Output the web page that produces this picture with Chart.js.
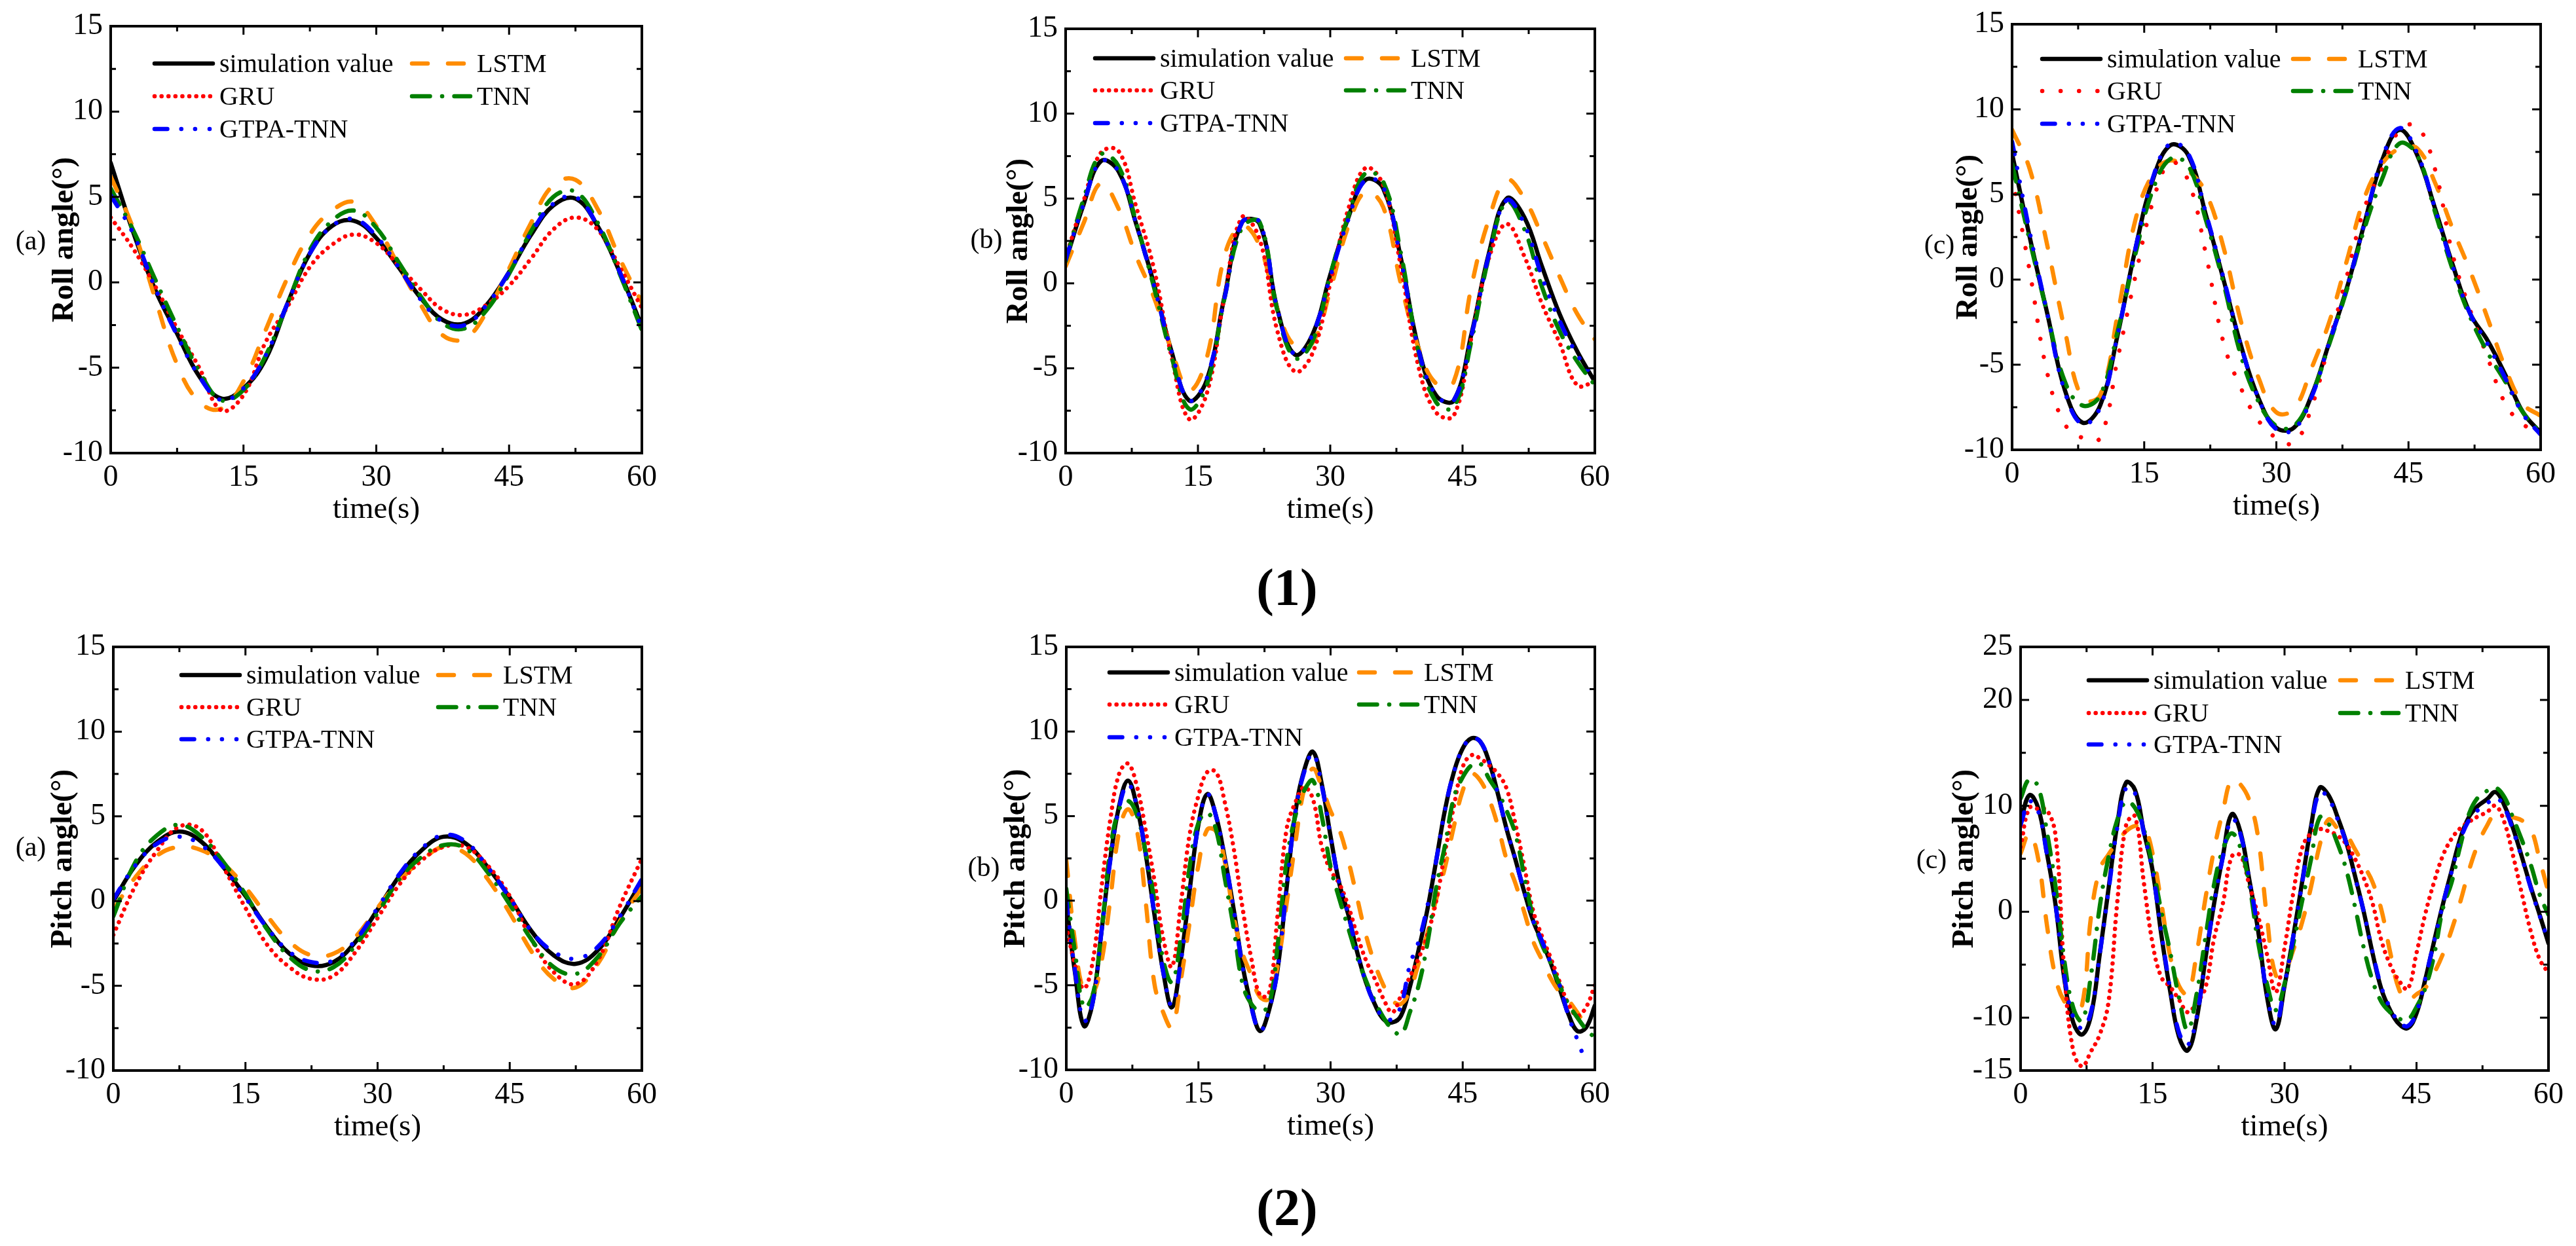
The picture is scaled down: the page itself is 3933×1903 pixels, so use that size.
<!DOCTYPE html>
<html>
<head>
<meta charset="utf-8">
<script src="https://cdn.jsdelivr.net/npm/chart.js@4.4.1/dist/chart.umd.min.js"></script>
<style>
  body { margin: 0; background: #fff; width: 3933px; height: 1903px; position: relative; overflow: hidden; }
  canvas { position: absolute; }
  .cap { position: absolute; font-family: "Liberation Serif", serif; font-weight: bold; font-size: 80px; line-height: 1; transform: translate(-50%, -50%); }
</style>
</head>
<body>
<div class="cap" style="left:1965px; top:897px;">(1)</div>
<div class="cap" style="left:1965px; top:1844px;">(2)</div>
<script>
// time axes (s)
const timeA = [0, 2.5, 5, 7.5, 10, 12.5, 15, 17.5, 20, 22.5, 25, 27.5, 30, 32.5, 35, 37.5, 40, 42.5, 45, 47.5, 50, 52.5, 55, 57.5, 60];
const timeB = [0, 2, 4, 6, 8, 10, 12, 14, 16, 18, 20, 22, 24, 26, 28, 30, 32, 34, 36, 38, 40, 42, 44, 46, 48, 50, 52, 54, 56, 58, 60];
const timeC = [0, 1, 2, 3, 4, 5, 6, 7, 8, 9, 10, 11, 12, 13, 14, 15, 16, 17, 18, 19, 20, 21, 22, 23, 24, 25, 26, 27, 28, 29,
  30, 31, 32, 33, 34, 35, 36, 37, 38, 39, 40, 41, 42, 43, 44, 45, 46, 47, 48, 49, 50, 51, 52, 53, 54, 55, 56, 57, 58, 59, 60];

// tick labels
const xTickLabels = [0, 15, 30, 45, 60];
const yTickLabels = [-10, -5, 0, 5, 10, 15];
const yTickLabelsPitchC = [-15, -10, 0, 10, 20, 25];

const seriesNames = ['simulation value', 'LSTM', 'GRU', 'TNN', 'GTPA-TNN'];

// (1)(a) roll angle
const rollA_sim  = [7.0, 3.0, -0.4, -3.0, -5.5, -6.8, -6.2, -4.5, -1.2, 1.7, 3.3, 3.6, 2.6, 0.9, -0.9, -2.2, -2.4, -1.3, 0.6, 2.8, 4.5, 4.9, 3.3, 0.6, -2.6];
const rollA_lstm = [6.2, 3.2, -0.9, -4.8, -7.0, -7.4, -5.8, -2.8, 0.3, 2.8, 4.2, 4.7, 3.3, 1.0, -1.3, -3.1, -3.3, -1.7, 0.8, 3.5, 5.7, 6.0, 4.3, 1.4, -1.2];
const rollA_gru  = [3.8, 2.0, -0.2, -2.7, -5.0, -7.5, -6.6, -3.5, -1.4, 0.9, 2.2, 2.8, 2.3, 1.0, -0.4, -1.6, -1.9, -1.3, -0.2, 1.4, 3.1, 3.8, 3.1, 0.9, -1.5];
const rollA_tnn  = [5.5, 3.1, 0.2, -2.6, -5.2, -6.9, -6.3, -4.3, -1.2, 1.9, 3.6, 4.2, 3.2, 1.2, -0.8, -2.4, -2.7, -1.6, 0.5, 3.0, 5.0, 5.3, 3.5, 0.5, -2.8];
const rollA_gtpa = [5.1, 2.9, -0.3, -3.1, -5.5, -6.9, -6.2, -4.3, -1.2, 1.7, 3.3, 3.7, 2.7, 0.9, -1.0, -2.3, -2.5, -1.3, 0.6, 2.9, 4.6, 5.0, 3.3, 0.6, -2.7];

// (1)(b) roll angle
const rollB_sim  = [1.3, 4.6, 7.2, 6.6, 3.5, 0.0, -4.0, -6.9, -5.7, -0.8, 3.6, 3.5, -1.5, -4.2, -3.0, 0.5, 3.8, 6.1, 5.6, 1.5, -3.8, -6.6, -6.9, -3.0, 1.8, 5.0, 3.9, 1.0, -1.8, -4.0, -5.8];
const rollB_lstm = [1.0, 3.5, 5.9, 4.4, 1.6, -0.8, -3.9, -6.3, -4.4, 1.6, 3.4, 2.2, -1.5, -3.7, -3.5, -0.4, 3.3, 5.4, 4.5, 0.0, -3.8, -5.9, -5.8, -0.2, 3.8, 6.1, 5.0, 2.8, 0.4, -1.8, -3.3];
const rollB_gru  = [1.5, 4.8, 7.7, 7.8, 4.5, 0.9, -4.3, -8.0, -6.5, -0.8, 3.9, 2.6, -2.8, -5.2, -4.1, 0.0, 4.3, 6.8, 5.8, 1.0, -4.9, -7.6, -7.8, -3.2, 1.5, 3.5, 1.6, -1.2, -3.5, -6.0, -5.8];
const rollB_tnn  = [1.3, 4.9, 7.6, 6.9, 3.6, -0.2, -4.3, -7.4, -6.0, -0.9, 3.3, 3.6, -1.6, -4.4, -3.4, 0.5, 3.9, 6.5, 6.0, 1.8, -4.0, -7.0, -7.3, -3.4, 1.6, 4.8, 3.2, -0.2, -2.8, -4.6, -6.0];
const rollB_gtpa = [1.4, 4.6, 7.2, 6.6, 3.5, -0.1, -4.0, -6.9, -5.6, -0.9, 3.6, 3.6, -1.5, -4.2, -3.0, 0.4, 3.7, 6.1, 5.7, 1.4, -3.9, -6.6, -6.9, -3.1, 1.7, 4.9, 3.5, 0.4, -2.2, -4.2, -5.6];

// (1)(c) roll angle
const rollC_sim  = [7.4, 2.5, -2.0, -6.5, -8.4, -7.4, -3.2, 1.8, 5.9, 7.9, 7.3, 3.8, 0.0, -3.9, -7.0, -8.7, -8.7, -6.8, -3.7, -0.5, 3.3, 7.0, 8.8, 7.3, 4.2, 0.9, -2.0, -3.6, -5.6, -7.8, -9.0];
const rollC_lstm = [8.8, 6.5, 2.0, -3.0, -7.0, -6.8, -2.0, 3.5, 6.2, 7.0, 6.4, 5.1, 1.9, -2.5, -5.8, -7.8, -7.6, -5.2, -2.5, 1.1, 4.8, 6.8, 7.7, 7.7, 5.7, 3.0, 0.5, -2.3, -5.2, -7.3, -8.0];
const rollC_gru  = [6.1, 0.5, -5.5, -8.5, -9.3, -9.3, -4.6, 0.2, 4.6, 6.9, 5.8, 1.5, -3.7, -6.4, -8.3, -9.3, -9.6, -7.5, -3.7, 0.2, 4.2, 6.5, 8.8, 9.0, 6.5, 1.5, -1.8, -4.6, -7.3, -8.5, -9.0];
const rollC_tnn  = [6.8, 2.3, -2.0, -6.0, -7.4, -6.8, -3.0, 1.5, 5.3, 7.1, 6.7, 3.5, -0.2, -4.5, -7.2, -8.6, -8.6, -6.8, -3.8, -0.6, 3.0, 5.9, 8.0, 7.3, 4.0, 0.6, -2.2, -4.3, -6.0, -7.8, -9.0];
const rollC_gtpa = [8.1, 2.8, -2.0, -6.6, -8.5, -7.5, -3.2, 1.8, 6.0, 8.0, 7.4, 3.9, 0.1, -3.9, -7.0, -8.8, -8.8, -6.9, -3.7, -0.5, 3.3, 7.1, 8.9, 7.4, 4.2, 0.8, -2.0, -3.8, -5.8, -7.9, -9.1];

// (2)(a) pitch angle
const pitchA_sim  = [0.0, 2.1, 3.5, 4.1, 3.5, 2.0, 0.3, -1.6, -3.1, -3.8, -3.6, -2.4, -0.5, 1.5, 3.0, 3.8, 3.4, 2.0, 0.2, -1.8, -3.2, -3.7, -2.9, -1.0, 1.2];
const pitchA_lstm = [-0.5, 1.4, 2.7, 3.2, 3.0, 2.2, 0.8, -0.9, -2.4, -3.2, -3.1, -2.1, -0.4, 1.2, 2.4, 3.2, 2.8, 1.3, -0.7, -3.0, -4.6, -5.1, -3.7, -1.2, 0.8];
const pitchA_gru  = [-2.0, 0.9, 3.0, 4.4, 4.2, 2.0, -0.4, -2.6, -3.9, -4.6, -4.4, -3.0, -1.0, 1.0, 2.4, 3.2, 3.2, 2.1, 0.3, -2.3, -4.2, -4.9, -3.5, -0.3, 2.5];
const pitchA_tnn  = [-0.9, 2.3, 3.9, 4.5, 3.8, 2.3, 0.4, -1.7, -3.3, -4.1, -3.9, -2.6, -0.7, 1.3, 2.6, 3.3, 3.1, 1.7, -0.2, -2.3, -3.9, -4.3, -3.3, -1.3, 0.3];
const pitchA_gtpa = [0.1, 2.1, 3.4, 3.8, 3.3, 2.0, 0.2, -1.6, -3.0, -3.6, -3.5, -2.3, -0.4, 1.6, 3.1, 3.9, 3.5, 2.0, 0.2, -1.8, -3.0, -3.4, -2.7, -0.9, 1.3];

// (2)(b) pitch angle
const pitchB_sim  = [-0.2, -4.3, -7.4, -6.0, -1.8, 2.5, 5.6, 7.1, 5.6, 2.8, -0.8, -4.2, -6.3, -3.5, 0.6, 4.5, 6.3, 5.0, 2.5, -0.5,
  -3.8, -6.2, -7.7, -6.5, -4.0, 0.7, 5.2, 7.7, 8.8, 6.9, 3.8, 1.0, -0.8, -3.0, -4.8, -6.1, -7.0, -7.2, -6.8, -5.1,
  -2.9, -0.5, 2.4, 5.4, 7.6, 9.0, 9.6, 9.4, 8.2, 6.3, 4.2, 2.4, 0.5, -1.2, -2.4, -3.7, -5.2, -6.7, -7.7, -7.5, -6.2];
const pitchB_lstm = [2.4, -2.5, -5.4, -5.5, -3.6, 0.1, 4.1, 5.4, 4.2, 0.0, -4.9, -6.6, -7.5, -4.7, -1.3, 2.1, 4.2, 4.1, 2.3, -0.9,
  -3.1, -4.4, -5.7, -5.8, -3.8, -0.2, 3.4, 6.6, 7.8, 6.7, 5.3, 4.2, 2.4, 0.2, -2.0, -3.7, -5.0, -5.9, -6.1, -5.3,
  -3.7, -1.9, 0.1, 2.0, 4.4, 6.5, 7.5, 7.1, 6.0, 4.4, 2.4, 1.0, -0.7, -2.4, -3.5, -4.6, -5.4, -5.9, -6.6, -7.3, -7.6];
const pitchB_gru  = [-1.5, -3.8, -5.2, -3.6, 0.8, 4.8, 7.5, 8.1, 6.8, 4.2, 1.2, -2.2, -3.9, -0.2, 3.9, 6.2, 7.6, 7.6, 5.8, 3.1,
  -0.4, -3.4, -5.6, -5.5, -0.8, 4.2, 5.8, 6.7, 6.0, 3.2, 1.8, 1.0, -0.3, -2.0, -3.5, -4.6, -5.8, -6.6, -5.6, -4.5,
  -3.4, -2.0, 0.0, 2.9, 5.6, 7.9, 8.6, 8.4, 8.0, 7.5, 6.6, 4.5, 2.0, -0.6, -2.1, -3.4, -4.8, -6.1, -6.8, -6.3, -5.0];
const pitchB_tnn  = [0.7, -3.1, -6.3, -5.6, -1.8, 3.0, 5.4, 5.9, 5.1, 2.9, 0.0, -3.5, -4.8, -2.2, 2.0, 4.6, 5.2, 4.2, 1.3, -1.6,
  -4.9, -6.1, -6.5, -6.2, -2.6, 2.3, 5.0, 6.5, 7.1, 5.0, 2.0, 0.1, -1.6, -3.3, -4.7, -5.9, -6.9, -7.6, -7.9, -6.6,
  -5.0, -2.5, 0.8, 3.3, 6.1, 7.3, 8.0, 8.1, 7.2, 6.4, 5.3, 3.9, 1.4, -1.0, -2.6, -3.7, -5.0, -6.1, -6.9, -7.6, -8.1];
const pitchB_gtpa = [0.0, -4.2, -7.1, -6.0, -1.8, 2.4, 5.5, 6.9, 5.6, 2.8, -0.8, -4.2, -6.2, -3.6, 0.6, 4.5, 6.3, 5.0, 2.5, -0.5,
  -3.9, -6.3, -7.7, -6.5, -4.0, 0.7, 5.2, 7.6, 8.7, 6.8, 3.8, 1.0, -0.8, -3.0, -4.8, -6.1, -6.9, -7.0, -6.2, -3.8,
  -2.4, -0.3, 2.4, 5.4, 7.6, 9.0, 9.6, 9.4, 8.2, 6.3, 4.2, 2.4, 0.5, -1.2, -2.4, -3.7, -5.0, -6.8, -8.2, -9.6, null];

// (2)(c) pitch angle
const pitchC_sim  = [8.4, 11.0, 9.8, 5.5, 0.5, -6.5, -10.5, -11.6, -9.8, -4.0, 2.2, 8.3, 12.2, 11.5, 7.6, 3.9, -2.2, -7.5, -11.8, -13.1,
  -10.2, -4.5, 0.8, 5.3, 9.2, 7.5, 3.0, -1.8, -8.0, -11.1, -7.0, -2.3, 2.8, 8.0, 11.7, 11.0, 9.0, 6.6, 3.4, 0.0,
  -3.9, -7.3, -9.3, -10.6, -11.0, -9.6, -6.4, -2.8, 0.7, 3.9, 7.0, 9.0, 10.0, 10.6, 11.3, 10.0, 7.8, 5.1, 2.3, -0.3, -3.0];
const pitchC_lstm = [5.5, 7.4, 5.0, -1.3, -6.3, -8.5, -9.0, -8.8, -0.5, 4.0, 5.4, 6.6, 7.6, 8.1, 8.0, 5.5, 0.8, -4.2, -7.0, -7.8,
  -4.0, 1.2, 5.9, 9.5, 12.5, 12.0, 10.5, 7.0, -0.5, -6.0, -5.6, -3.6, -1.0, 2.3, 6.3, 8.7, 7.9, 7.3, 5.9, 4.4,
  2.8, 0.2, -3.8, -7.3, -8.4, -7.8, -7.2, -5.8, -4.0, -1.7, 1.0, 4.0, 6.4, 8.1, 9.3, 9.1, 8.9, 8.6, 7.8, 4.9, 1.8];
const pitchC_gru  = [6.1, 9.8, 9.7, 9.6, 7.0, -6.0, -13.2, -14.6, -13.2, -11.6, -8.5, 1.0, 8.2, 9.0, 2.8, -3.0, -6.2, -7.1, -8.3, -9.5,
  -8.6, -7.2, -2.5, 0.8, 5.2, 5.3, 2.5, -0.4, -4.0, -7.6, -3.4, 1.8, 6.0, 7.4, 7.8, 7.6, 7.2, 6.4, 5.0, 3.2,
  0.8, -2.7, -5.0, -6.5, -7.3, -3.9, -0.2, 2.8, 5.3, 6.9, 7.9, 8.5, 9.0, 9.4, 10.0, 8.4, 5.2, 1.6, -1.9, -4.5, -5.8];
const pitchC_tnn  = [10.7, 12.5, 11.8, 7.5, 2.2, -4.8, -9.1, -10.3, -6.0, 0.5, 5.2, 8.7, 10.4, 9.8, 7.8, 4.3, 0.0, -3.8, -8.1, -11.2,
  -7.8, -2.5, 2.6, 5.9, 7.4, 6.0, 2.5, -2.9, -6.8, -9.3, -6.8, -3.0, 1.0, 4.9, 8.9, 8.3, 6.5, 4.0, 0.5, -3.4,
  -6.5, -8.5, -9.5, -10.1, -10.2, -9.0, -7.2, -4.1, 0.3, 2.8, 6.3, 9.3, 10.8, 11.4, 11.7, 10.8, 8.8, 6.7, 4.4, 1.6, -0.3];
const pitchC_gtpa = [8.2, 10.4, 9.5, 5.4, 0.5, -6.2, -10.0, -11.0, -9.5, -4.0, 2.0, 8.0, 11.7, 11.2, 7.5, 3.8, -2.0, -7.3, -11.4, -12.6,
  -10.0, -4.5, 0.8, 5.2, 8.8, 7.3, 3.0, -1.8, -7.8, -10.7, -6.9, -2.3, 2.7, 7.8, 11.3, 10.7, 8.8, 6.5, 3.3, 0.0,
  -3.8, -7.1, -9.1, -10.4, -10.8, -9.5, -6.3, -2.8, 0.7, 3.8, 6.8, 8.7, 9.6, 10.2, 10.8, 9.8, 7.6, 5.0, 2.2, -0.4, -2.8];

// line looks: colour, dash, drawing order (lower = on top)
const lineStyles = [
  { color: '#000000', dash: [], order: 5 },
  { color: '#ff8c00', dash: [24, 31], order: 4 },
  { color: '#ff0000', dash: [0.1, 10.5], order: 3 },
  { color: '#008000', dash: [27.5, 18.5, 0.1, 18.5], order: 2 },
  { color: '#0000ff', dash: [19.5, 21.25, 0.1, 21, 0.1, 22, 0.1, 21], order: 1 }
];
const LINE_W = 6.5;
const FONT = '"Liberation Serif", "Times New Roman", serif';

// page placement of every panel (plot-box edges in page pixels)
const panels = [
  { L: 169, T: 40, R: 980, B: 692, yTitleX: 99, tagX: 47, tagY: 370, tag: '(a)', yTitle: 'Roll angle(°)',
    time: timeA, data: [rollA_sim, rollA_lstm, rollA_gru, rollA_tnn, rollA_gtpa],
    yMin: -10, yMax: 15, yLabels: yTickLabels, yMajor: 5, yMinor: 2.5, leg: [64, 457, 57, 107, 157] },
  { L: 1627, T: 44, R: 2435, B: 692, yTitleX: 1556, tagX: 1506, tagY: 368, tag: '(b)', yTitle: 'Roll angle(°)',
    time: timeB, data: [rollB_sim, rollB_lstm, rollB_gru, rollB_tnn, rollB_gtpa],
    yMin: -10, yMax: 15, yLabels: yTickLabels, yMajor: 5, yMinor: 2.5, leg: [42, 425, 45, 94, 144] },
  { L: 3072, T: 37, R: 3879, B: 687, yTitleX: 3006, tagX: 2961, tagY: 376, tag: '(c)', yTitle: 'Roll angle(°)',
    time: timeB, data: [rollC_sim, rollC_lstm, rollC_gru, rollC_tnn, rollC_gtpa],
    yMin: -10, yMax: 15, yLabels: yTickLabels, yMajor: 5, yMinor: 2.5, leg: [43, 426, 53, 102, 152], gruDash: [0.1, 28] },
  { L: 173, T: 988, R: 980, B: 1635, yTitleX: 97, tagX: 47, tagY: 1296, tag: '(a)', yTitle: 'Pitch angle(°)',
    time: timeA, data: [pitchA_sim, pitchA_lstm, pitchA_gru, pitchA_tnn, pitchA_gtpa],
    yMin: -10, yMax: 15, yLabels: yTickLabels, yMajor: 5, yMinor: 2.5, leg: [101, 493, 43, 92, 141] },
  { L: 1628, T: 988, R: 2435, B: 1634, yTitleX: 1552, tagX: 1502, tagY: 1327, tag: '(b)', yTitle: 'Pitch angle(°)',
    time: timeC, data: [pitchB_sim, pitchB_lstm, pitchB_gru, pitchB_tnn, pitchB_gtpa],
    yMin: -10, yMax: 15, yLabels: yTickLabels, yMajor: 5, yMinor: 2.5, leg: [63, 444, 39, 88, 138] },
  { L: 3085, T: 988, R: 3891, B: 1635, yTitleX: 3000, tagX: 2949, tagY: 1315, tag: '(c)', yTitle: 'Pitch angle(°)',
    time: timeC, data: [pitchC_sim, pitchC_lstm, pitchC_gru, pitchC_tnn, pitchC_gtpa],
    yMin: -15, yMax: 25, yLabels: yTickLabelsPitchC, yMajor: 10, yMinor: 5, leg: [101, 485, 51, 101, 149] }
];

// frame, inward ticks, in-plot legend and the (a)/(b)/(c) tag
const decorPlugin = {
  id: 'decor',
  afterDatasetsDraw(chart, args, opts) {
    const p = opts.panel;
    const { ctx, chartArea: a, scales: { x, y } } = chart;
    ctx.save();
    ctx.setLineDash([]);
    ctx.strokeStyle = '#000';
    ctx.lineCap = 'butt';
    ctx.lineWidth = 4;
    ctx.strokeRect(a.left, a.top, a.right - a.left, a.bottom - a.top);

    ctx.lineWidth = 3;
    ctx.beginPath();
    for (let v = x.min; v <= x.max + 1e-6; v += 7.5) {
      const px = x.getPixelForValue(v);
      const len = Math.abs(v % 15) < 1e-6 ? 13 : 8;
      ctx.moveTo(px, a.bottom); ctx.lineTo(px, a.bottom - len);
      ctx.moveTo(px, a.top); ctx.lineTo(px, a.top + len);
    }
    for (let v = p.yMin; v <= p.yMax + 1e-6; v += p.yMinor) {
      const py = y.getPixelForValue(v);
      const len = Math.abs(v % p.yMajor) < 1e-6 ? 13 : 8;
      ctx.moveTo(a.left, py); ctx.lineTo(a.left + len, py);
      ctx.moveTo(a.right, py); ctx.lineTo(a.right - len, py);
    }
    ctx.stroke();

    // legend: two columns, three rows
    const [c1, c2, r0, r1, r2] = p.leg;
    const slots = [[c1, r0], [c2, r0], [c1, r1], [c2, r1], [c1, r2]];
    ctx.font = '40px ' + FONT;
    ctx.textBaseline = 'middle';
    ctx.textAlign = 'left';
    chart.data.datasets.forEach((ds, i) => {
      const sx = a.left + slots[i][0];
      const sy = a.top + slots[i][1];
      ctx.strokeStyle = ds.borderColor;
      ctx.lineWidth = ds.borderWidth;
      ctx.lineCap = 'round';
      ctx.setLineDash(ds.borderDash);
      ctx.beginPath();
      ctx.moveTo(sx + 3, sy);
      ctx.lineTo(sx + 92, sy);
      ctx.stroke();
      ctx.fillStyle = '#000';
      ctx.fillText(ds.label, sx + 102, sy + 2);
    });

    ctx.font = '42px ' + FONT;
    ctx.textAlign = 'center';
    ctx.fillText(p.tag, opts.tagX, opts.tagY);
    ctx.restore();
  }
};

panels.forEach(p => {
  const CL = p.tagX - 40;
  const CT = p.T - 40;
  const W = p.R + 40 - CL;
  const H = p.B + 120 - CT;
  const canvas = document.createElement('canvas');
  canvas.width = W;
  canvas.height = H;
  canvas.style.left = CL + 'px';
  canvas.style.top = CT + 'px';
  canvas.style.width = W + 'px';
  canvas.style.height = H + 'px';
  document.body.appendChild(canvas);

  const datasets = p.data.map((vals, i) => {
    const st = lineStyles[i];
    const dash = (i === 2 && p.gruDash) ? p.gruDash : st.dash;
    return {
      label: seriesNames[i],
      data: p.time.map((t, k) => ({ x: t, y: vals[k] })),
      borderColor: st.color,
      borderWidth: LINE_W,
      borderDash: dash,
      borderCapStyle: 'round',
      borderJoinStyle: 'round',
      pointRadius: 0,
      tension: 0.4,
      fill: false,
      order: st.order
    };
  });

  new Chart(canvas, {
    type: 'line',
    data: { datasets },
    plugins: [decorPlugin],
    options: {
      responsive: false,
      animation: false,
      devicePixelRatio: 1,
      layout: { padding: { left: p.yTitleX - 28.2 - CL, top: 40, right: 40, bottom: 4.8 } },
      plugins: {
        legend: { display: false },
        tooltip: { enabled: false },
        decor: { panel: p, tagX: p.tagX - CL, tagY: p.tagY - CT }
      },
      scales: {
        x: {
          type: 'linear', min: 0, max: 60,
          afterBuildTicks: s => { s.ticks = xTickLabels.map(v => ({ value: v })); },
          afterFit: s => { s.height = 115.2; },
          grid: { display: false, drawTicks: false },
          border: { display: false },
          ticks: { font: { family: FONT, size: 46 }, color: '#000', padding: 10, maxRotation: 0, autoSkip: false },
          title: { display: true, text: 'time(s)', font: { family: FONT, size: 47 }, color: '#000', padding: 0 }
        },
        y: {
          type: 'linear', min: p.yMin, max: p.yMax,
          afterBuildTicks: s => { s.ticks = p.yLabels.map(v => ({ value: v })); },
          afterFit: s => { s.width = p.L - p.yTitleX + 28.2; },
          grid: { display: false, drawTicks: false },
          border: { display: false },
          ticks: { font: { family: FONT, size: 46 }, color: '#000', padding: 12, autoSkip: false, callback: v => String(v) },
          title: { display: true, text: p.yTitle, font: { family: FONT, size: 47, weight: 'bold' }, color: '#000', padding: 0 }
        }
      }
    }
  });
});
</script>
</body>
</html>
